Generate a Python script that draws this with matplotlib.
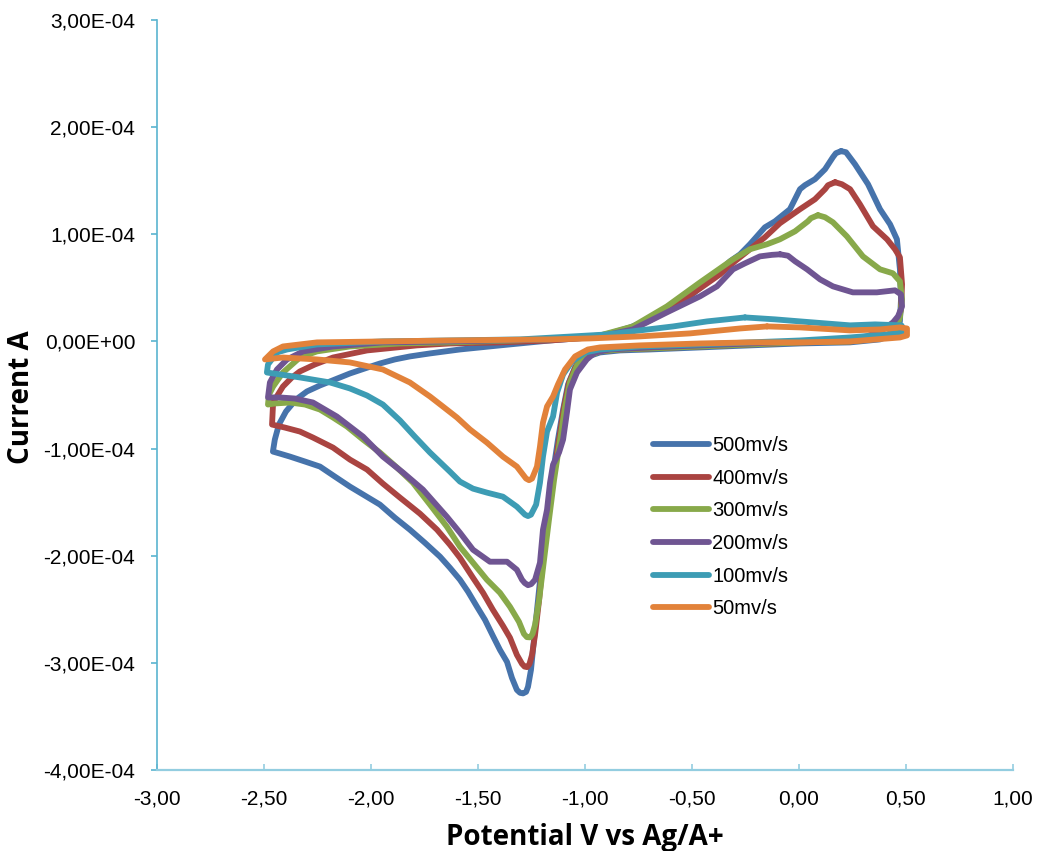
import numpy as np
import matplotlib
matplotlib.use("Agg")
import matplotlib.pyplot as plt
from matplotlib.ticker import FuncFormatter

# ---------------- data (potential V, current in 1e-4 A) ----------------
labels = ["500mv/s", "400mv/s", "300mv/s", "200mv/s", "100mv/s", "50mv/s"]
colors = ["#4673AB", "#AA4441", "#88A94A", "#6F5592", "#3D9CB4", "#E2823A"]

V_500 = [0.198, 0.221, 0.263, 0.324, 0.380, 0.427, 0.459, 0.473, 0.478, 0.473, 0.450, 0.380, 0.240,
         0.006, -0.228, -0.461, -0.695, -0.835, -0.929, -0.998, -1.045, -1.078, -1.101, -1.125,
         -1.153, -1.176, -1.199, -1.218, -1.237, -1.251, -1.265, -1.274, -1.288, -1.302, -1.317,
         -1.340, -1.363,
         -1.396, -1.429, -1.466, -1.503, -1.545, -1.583, -1.630, -1.676, -1.747, -1.817, -1.887,
         -1.957, -2.027, -2.097, -2.167, -2.237, -2.307, -2.377, -2.424, -2.457, -2.448, -2.429,
         -2.396, -2.349, -2.298, -2.237, -2.167, -2.097, -2.027, -1.957, -1.887, -1.817, -1.723,
         -1.583, -1.396, -1.162, -0.975, -0.882, -0.788, -0.695, -0.602, -0.508, -0.415, -0.321,
         -0.274, -0.228, -0.158, -0.111, -0.041, 0.006, 0.029, 0.076, 0.123, 0.160, 0.174, 0.198]
I_500 = [1.776, 1.766, 1.654, 1.467, 1.234, 1.093, 0.953, 0.673, 0.393, 0.187, 0.075, 0.019, -0.009,
         -0.019, -0.037, -0.056, -0.075, -0.084, -0.103, -0.150, -0.243, -0.402, -0.636, -0.916,
         -1.290, -1.664, -2.037, -2.411, -2.785, -3.065, -3.224, -3.271, -3.285, -3.280, -3.252,
         -3.140, -2.991,
         -2.879, -2.748, -2.598, -2.477, -2.336, -2.224, -2.112, -2.009, -1.879, -1.757, -1.645,
         -1.523, -1.439, -1.355, -1.262, -1.168, -1.121, -1.075, -1.047, -1.028, -0.916, -0.776,
         -0.654, -0.542, -0.467, -0.411, -0.355, -0.299, -0.252, -0.206, -0.168, -0.140, -0.112,
         -0.075, -0.037, 0.009, 0.037, 0.075, 0.131, 0.206, 0.299, 0.421, 0.579, 0.748,
         0.813, 0.907, 1.065, 1.121, 1.234, 1.421, 1.458, 1.514, 1.607, 1.720, 1.757, 1.776]

V_400 = [0.170, 0.202, 0.240, 0.286, 0.347, 0.413, 0.450, 0.473, 0.483, 0.478, 0.459, 0.417, 0.333,
         0.240, 0.006, -0.228, -0.461, -0.695, -0.835, -0.929, -0.998, -1.040, -1.073, -1.097,
         -1.120, -1.148, -1.171, -1.195, -1.213, -1.232, -1.246, -1.258, -1.269, -1.281, -1.293,
         -1.317, -1.349,
         -1.382, -1.429, -1.475, -1.522, -1.583, -1.630, -1.690, -1.770, -1.863, -1.943, -2.017,
         -2.097, -2.176, -2.270, -2.331, -2.401, -2.461, -2.456, -2.433, -2.410, -2.368, -2.331,
         -2.261, -2.176, -2.017, -1.784, -1.630, -1.396, -1.162, -0.975, -0.835, -0.695, -0.578,
         -0.461, -0.368, -0.298, -0.228, -0.158, -0.088, 0.006, 0.076, 0.123, 0.137, 0.170]
I_400 = [1.486, 1.467, 1.421, 1.280, 1.075, 0.953, 0.860, 0.785, 0.533, 0.299, 0.150, 0.056, 0.019,
         0.000, -0.009, -0.028, -0.047, -0.065, -0.075, -0.093, -0.140, -0.224, -0.383, -0.617,
         -0.916, -1.290, -1.664, -2.037, -2.411, -2.738, -2.925, -3.010, -3.040, -3.035, -3.009,
         -2.925, -2.766,
         -2.654, -2.505, -2.346, -2.206, -2.019, -1.897, -1.757, -1.607, -1.458, -1.327, -1.196,
         -1.103, -0.991, -0.897, -0.841, -0.804, -0.776, -0.570, -0.495, -0.421, -0.336, -0.280,
         -0.215, -0.150, -0.084, -0.037, -0.019, -0.009, 0.009, 0.037, 0.084, 0.196, 0.336,
         0.495, 0.626, 0.748, 0.860, 0.972, 1.103, 1.234, 1.327, 1.421, 1.458, 1.486]

V_300 = [0.090, 0.123, 0.160, 0.225, 0.300, 0.380, 0.440, 0.473, 0.483, 0.473, 0.455, 0.408, 0.333,
         0.240, 0.006, -0.228, -0.461, -0.695, -0.835, -0.929, -0.993, -1.036, -1.069, -1.092,
         -1.115, -1.143, -1.167, -1.190, -1.213, -1.232, -1.244, -1.255, -1.270, -1.284, -1.307,
         -1.349, -1.396,
         -1.457, -1.522, -1.583, -1.644, -1.723, -1.803, -1.877, -1.957, -2.036, -2.111, -2.176,
         -2.237, -2.307, -2.377, -2.447, -2.480, -2.475, -2.456, -2.410, -2.331, -2.251, -2.097,
         -1.863, -1.630, -1.162, -0.929, -0.775, -0.616, -0.461, -0.307, -0.228, -0.148, -0.088,
         -0.017, 0.043, 0.057, 0.090]
I_300 = [1.178, 1.159, 1.112, 0.981, 0.794, 0.673, 0.636, 0.561, 0.393, 0.224, 0.112, 0.047, 0.019,
         0.000, -0.009, -0.028, -0.047, -0.065, -0.075, -0.093, -0.140, -0.224, -0.383, -0.617,
         -0.916, -1.290, -1.664, -2.037, -2.411, -2.645, -2.730, -2.762, -2.760, -2.729, -2.617,
         -2.477, -2.346,
         -2.224, -2.065, -1.916, -1.729, -1.523, -1.318, -1.178, -1.037, -0.916, -0.794, -0.710,
         -0.636, -0.589, -0.570, -0.579, -0.589, -0.495, -0.421, -0.290, -0.150, -0.093, -0.047,
         -0.019, -0.009, 0.019, 0.056, 0.140, 0.327, 0.551, 0.766, 0.860, 0.907, 0.953,
         1.028, 1.121, 1.150, 1.178]

V_200 = [-0.087, -0.050, -0.017, 0.039, 0.100, 0.160, 0.253, 0.365, 0.450, 0.478, 0.483, 0.464, 0.441,
         0.394, 0.319, 0.240, 0.006, -0.228, -0.461, -0.695, -0.882, -0.952, -0.990, -1.036,
         -1.069, -1.083, -1.101, -1.120, -1.148, -1.162, -1.176, -1.195, -1.209, -1.232, -1.250,
         -1.265, -1.280,
         -1.293, -1.317, -1.363, -1.443, -1.522, -1.583, -1.644, -1.756, -1.849, -1.943, -2.036,
         -2.158, -2.270, -2.354, -2.424, -2.480, -2.471, -2.438, -2.391, -2.316, -2.176, -1.943,
         -1.630, -1.162, -0.929, -0.775, -0.616, -0.461, -0.382, -0.307, -0.251, -0.181, -0.125,
         -0.087]
I_200 = [0.813, 0.800, 0.748, 0.673, 0.579, 0.514, 0.458, 0.458, 0.477, 0.439, 0.327, 0.234, 0.178,
         0.112, 0.047, 0.019, 0.000, -0.019, -0.037, -0.056, -0.075, -0.103, -0.168, -0.290,
         -0.449, -0.664, -0.916, -1.037, -1.150, -1.318, -1.570, -1.757, -2.065, -2.224, -2.265,
         -2.275, -2.255,
         -2.224, -2.131, -2.056, -2.056, -1.944, -1.785, -1.636, -1.383, -1.224, -1.075, -0.888,
         -0.701, -0.570, -0.533, -0.523, -0.523, -0.383, -0.262, -0.168, -0.093, -0.047, -0.009,
         0.000, 0.019, 0.047, 0.112, 0.271, 0.421, 0.514, 0.673, 0.729, 0.794, 0.808,
         0.813]

V_100 = [-0.251, -0.111, 0.006, 0.240, 0.357, 0.480, 0.494, 0.466, 0.240, 0.006, -0.228, -0.461,
         -0.742, -0.929, -0.998, -1.059, -1.101, -1.129, -1.148, -1.176, -1.195, -1.209, -1.227,
         -1.251, -1.265, -1.279, -1.317, -1.382, -1.457, -1.522, -1.583, -1.630, -1.723, -1.794,
         -1.863, -1.943, -2.017, -2.097, -2.190, -2.331, -2.424, -2.485, -2.480, -2.438, -2.391,
         -2.251, -1.943, -1.630, -1.302, -1.054, -0.896, -0.742, -0.587, -0.428, -0.251]
I_100 = [0.224, 0.206, 0.187, 0.150, 0.159, 0.150, 0.103, 0.075, 0.037, 0.009, -0.009, -0.028,
         -0.047, -0.075, -0.103, -0.187, -0.308, -0.477, -0.701, -0.841, -1.075, -1.318, -1.523,
         -1.617, -1.630, -1.617, -1.542, -1.449, -1.411, -1.374, -1.308, -1.215, -1.037, -0.888,
         -0.738, -0.589, -0.505, -0.439, -0.383, -0.336, -0.308, -0.290, -0.215, -0.103, -0.075,
         -0.028, 0.000, 0.009, 0.019, 0.047, 0.065, 0.103, 0.140, 0.187, 0.224]

V_50 = [-0.148, 0.006, 0.240, 0.380, 0.473, 0.506, 0.506, 0.473, 0.240, 0.006, -0.228, -0.461,
        -0.742, -0.929, -0.985, -1.045, -1.092, -1.125, -1.148, -1.176, -1.195, -1.209, -1.223,
        -1.246, -1.260, -1.274, -1.317, -1.382, -1.457, -1.536, -1.597, -1.663, -1.723, -1.817,
        -1.943, -2.097, -2.251, -2.410, -2.494, -2.456, -2.410, -2.251, -1.943, -1.630, -1.162,
        -0.975, -0.742, -0.508, -0.274, -0.148]
I_50 = [0.140, 0.131, 0.103, 0.112, 0.131, 0.121, 0.056, 0.037, 0.000, -0.009, -0.009, -0.019,
        -0.037, -0.056, -0.075, -0.140, -0.262, -0.402, -0.514, -0.607, -0.757, -0.981, -1.168,
        -1.280, -1.295, -1.280, -1.168, -1.075, -0.944, -0.822, -0.710, -0.607, -0.514, -0.383,
        -0.262, -0.196, -0.168, -0.150, -0.168, -0.093, -0.047, -0.009, 0.000, 0.009, 0.019,
        0.028, 0.047, 0.075, 0.121, 0.140]

x_ticks = [-3.0, -2.5, -2.0, -1.5, -1.0, -0.5, 0.0, 0.5, 1.0]
y_ticks = [-4e-4, -3e-4, -2e-4, -1e-4, 0.0, 1e-4, 2e-4, 3e-4]

series_V = [V_500, V_400, V_300, V_200, V_100, V_50]
series_I = [I_500, I_400, I_300, I_200, I_100, I_50]

# ---------------- figure ----------------
plt.rcParams['font.family'] = ['Liberation Sans', 'DejaVu Sans']
W, H = 1037, 851
fig = plt.figure(figsize=(W / 100, H / 100), dpi=100)
ax = fig.add_axes([156.7 / W, 1 - 770 / H, (1012.7 - 156.7) / W, 750 / H])

for V, I, lab, col in zip(series_V, series_I, labels, colors):
    ax.plot(V, np.array(I) * 1e-4, color=col, lw=4.2, label=lab,
            solid_capstyle='round', solid_joinstyle='round')

ax.set_xlim(-3.0, 1.0)
ax.set_ylim(-4e-4, 3e-4)
ax.set_xticks(x_ticks)
ax.set_yticks(y_ticks)
ax.xaxis.set_major_formatter(FuncFormatter(lambda v, p: f"{v:.2f}".replace('.', ',')))
ax.yaxis.set_major_formatter(FuncFormatter(lambda v, p: f"{v:.2E}".replace('.', ',')))

for s in ['top', 'right']:
    ax.spines[s].set_visible(False)
ax.spines['left'].set_color('#5AB4D0')
ax.spines['bottom'].set_color('#93CDE0')
ax.spines['left'].set_linewidth(1.2)
ax.spines['bottom'].set_linewidth(1.6)
ax.tick_params(axis='y', direction='out', length=4.5, width=1.2, color='#5AB4D0',
               labelsize=15, pad=11)
ax.tick_params(axis='x', direction='in', length=4.5, width=1.2, color='#93CDE0',
               labelsize=15, pad=14)

fig.text(22 / W, 1 - 397 / H, "Current A", rotation=90, ha='center', va='center',
         fontsize=20, fontweight='bold', family=['Open Sans', 'DejaVu Sans'])
fig.text(585 / W, 1 - 838 / H, "Potential V vs Ag/A+", ha='center', va='center',
         fontsize=20, fontweight='bold', family=['Open Sans', 'DejaVu Sans'])

leg = ax.legend(loc='upper left', bbox_to_anchor=(653 / W, 1 - 436 / H),
                bbox_transform=fig.transFigure, frameon=False, fontsize=14.5,
                handlelength=2.8, handletextpad=0.15, labelspacing=0.68,
                borderpad=0, borderaxespad=0)
for lh in leg.get_lines():
    lh.set_linewidth(4.2)
    lh.set_solid_capstyle('round')

fig.savefig("out.png", dpi=100)
